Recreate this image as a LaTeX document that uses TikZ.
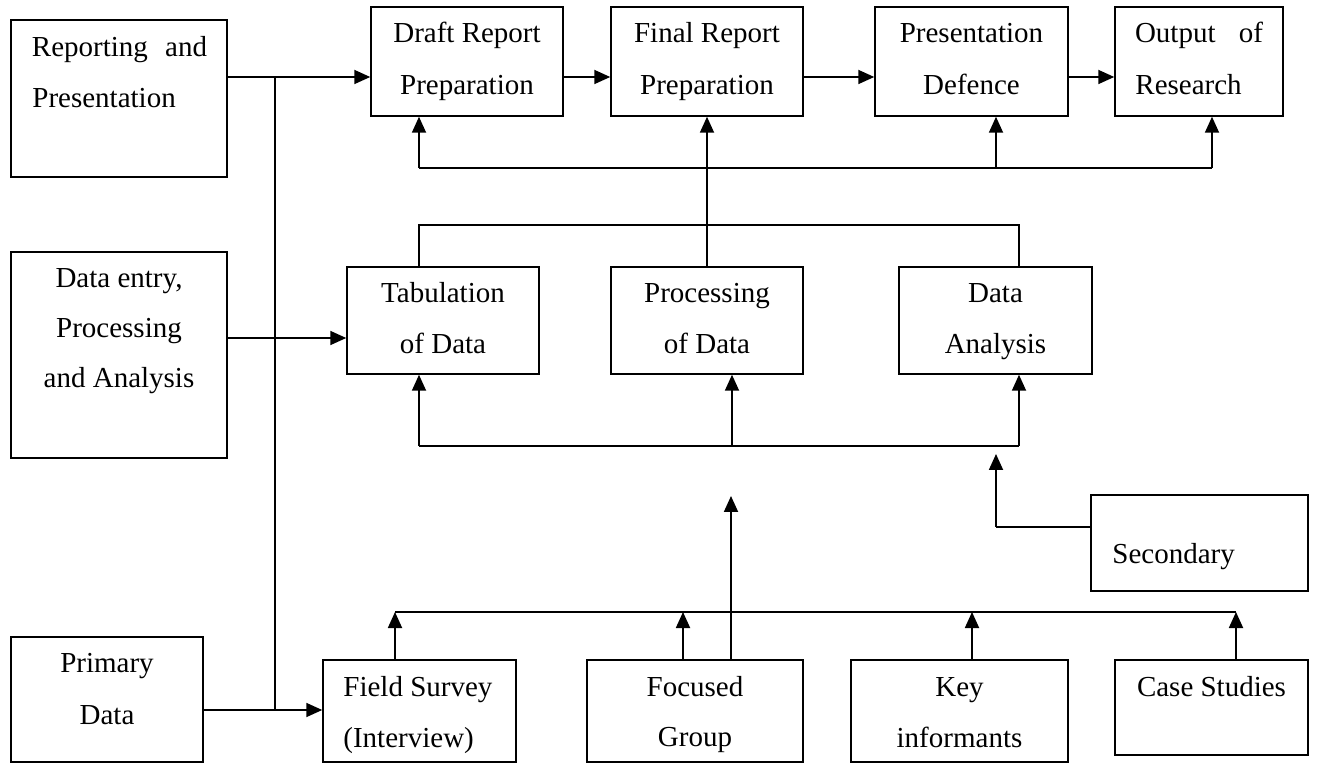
\documentclass[tikz,border=0pt]{standalone}
\usepackage{fontspec}
\setmainfont{Liberation Serif}
\usetikzlibrary{arrows.meta,fit}
\begin{document}
\begin{tikzpicture}[x=0.5pt,y=-0.5pt,
  box/.style={draw, line width=0.75pt, inner sep=0pt},
  conn/.style={line width=0.9pt},
  arr/.style={conn, -{Triangle[length=8pt,width=7pt]}},
  txt/.style={inner sep=0pt, anchor=base, font=\fontsize{14.5}{17}\selectfont},
  txtl/.style={txt, anchor=base west}]
\useasboundingbox (0,0) rectangle (1318,764);
% boxes
\node[box, fit={(11,20) (227,177)}] (rep) {};
\node[box, fit={(371,7) (563,116)}] (draft) {};
\node[box, fit={(611,7) (803,116)}] (final) {};
\node[box, fit={(875,7) (1068,116)}] (pres) {};
\node[box, fit={(1115,7) (1283,116)}] (out) {};
\node[box, fit={(11,252) (227,458)}] (dent) {};
\node[box, fit={(347,267) (539,374)}] (tab) {};
\node[box, fit={(611,267) (803,374)}] (proc) {};
\node[box, fit={(899,267) (1092,374)}] (da) {};
\node[box, fit={(1091,495) (1308,591)}] (sec) {};
\node[box, fit={(11,637) (203,762)}] (prim) {};
\node[box, fit={(323,660) (516,762)}] (field) {};
\node[box, fit={(587,660) (803,762)}] (foc) {};
\node[box, fit={(851,660) (1068,762)}] (key) {};
\node[box, fit={(1115,660) (1308,755)}] (case) {};
% texts
\node[txt] (trep1) at (119.5,57) {\makebox[87.5pt][s]{Reporting and}};
\node[txtl] (trep2) at (32,108) {Presentation};
\node[txt] (tdr1) at (467,43) {Draft Report};
\node[txt] (tdr2) at (467,95) {Preparation};
\node[txt] (tfi1) at (707,43) {Final Report};
\node[txt] (tfi2) at (707,95) {Preparation};
\node[txt] (tpr1) at (971.5,43) {Presentation};
\node[txt] (tpr2) at (971.5,95) {Defence};
\node[txt] (tou1) at (1199,43) {\makebox[64pt][s]{Output of}};
\node[txtl] (tou2) at (1135,95) {Research};
\node[txt] (tde1) at (119,288) {Data entry,};
\node[txt] (tde2) at (119,338) {Processing};
\node[txt] (tde3) at (119,388) {and Analysis};
\node[txt] (tta1) at (443,303) {Tabulation};
\node[txt] (tta2) at (443,354) {of Data};
\node[txt] (tpc1) at (707,303) {Processing};
\node[txt] (tpc2) at (707,354) {of Data};
\node[txt] (tda1) at (995.5,303) {Data};
\node[txt] (tda2) at (995.5,354) {Analysis};
\node[txtl] (tsec) at (1112,564) {Secondary};
\node[txt] (tpm1) at (107,672) {Primary};
\node[txt] (tpm2) at (107,724) {Data};
\node[txtl] (tfs1) at (343,697) {Field Survey};
\node[txtl] (tfs2) at (343,747) {(Interview)};
\node[txt] (tfg1) at (695,697) {Focused};
\node[txt] (tfg2) at (695,746) {Group};
\node[txt] (tki1) at (959.5,697) {Key};
\node[txt] (tki2) at (959.5,747) {informants};
\node[txt] (tcs) at (1211.5,697) {Case Studies};
% junction coordinates
\coordinate (jtop) at (275,77);
\coordinate (jbot) at (275,710);
\coordinate (jde) at (275,338);
\coordinate (b1L) at (419,168);
\coordinate (b1P) at (996,168);
\coordinate (b1R) at (1212,168);
\coordinate (b2L) at (419,225);
\coordinate (b2R) at (1019,225);
\coordinate (b3L) at (419,446);
\coordinate (b3M) at (732,446);
\coordinate (b3R) at (1019,446);
\coordinate (s1) at (996,527);
\coordinate (s2) at (996,454);
\coordinate (f2) at (731,496);
\coordinate (b4L) at (395,612);
\coordinate (b4F) at (683,612);
\coordinate (b4K) at (972,612);
\coordinate (b4R) at (1236,612);
% left connectors
\draw[arr] (rep.east |- jtop) -- (draft.west |- jtop);
\draw[conn] (jtop) -- (jbot);
\draw[arr] (dent.east |- jde) -- (tab.west |- jde);
\draw[arr] (prim.east |- jbot) -- (field.west |- jbot);
% top row
\draw[arr] (draft.east |- jtop) -- (final.west |- jtop);
\draw[arr] (final.east |- jtop) -- (pres.west |- jtop);
\draw[arr] (pres.east |- jtop) -- (out.west |- jtop);
% bus 1
\draw[conn] (b1L) -- (b1R);
\draw[arr] (b1L) -- (b1L |- draft.south);
\draw[arr] (b1P) -- (b1P |- pres.south);
\draw[arr] (b1R) -- (b1R |- out.south);
\draw[arr] (proc.north) -- (final.south);
% bus 2
\draw[conn] (tab.north -| b2L) -- (b2L) -- (b2R) -- (da.north -| b2R);
% bus 3
\draw[conn] (b3L) -- (b3R);
\draw[arr] (b3L) -- (b3L |- tab.south);
\draw[arr] (b3M) -- (b3M |- proc.south);
\draw[arr] (b3R) -- (b3R |- da.south);
% secondary
\draw[conn] (sec.west |- s1) -- (s1);
\draw[arr] (s1) -- (s2);
% focused up
\draw[arr] (foc.north -| f2) -- (f2);
% bus 4
\draw[conn] (b4L) -- (b4R);
\draw[arr] (field.north -| b4L) -- (b4L);
\draw[arr] (foc.north -| b4F) -- (b4F);
\draw[arr] (key.north -| b4K) -- (b4K);
\draw[arr] (case.north -| b4R) -- (b4R);
\end{tikzpicture}
\end{document}
